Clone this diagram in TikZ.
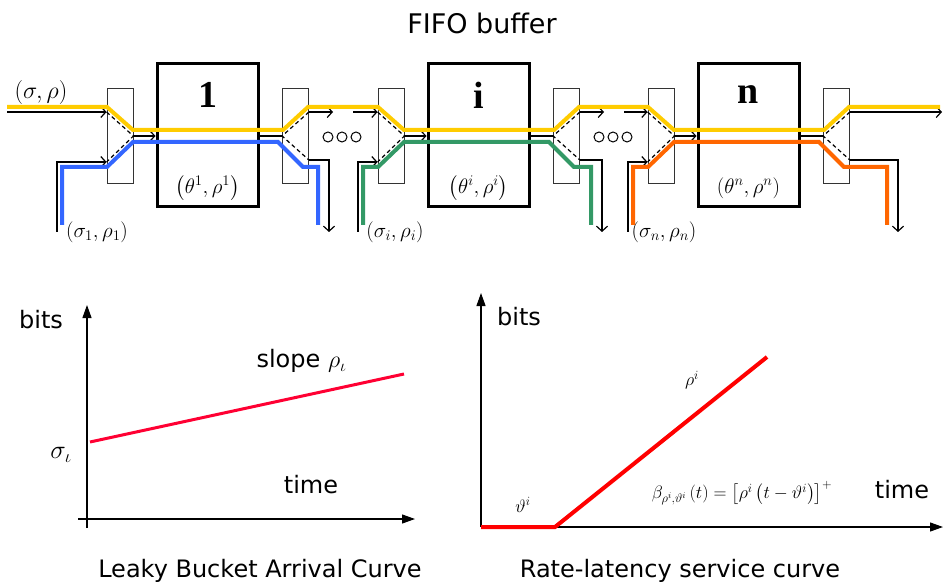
\documentclass[tikz,border=0pt]{standalone}
\usepackage{fix-cm}
\usepackage{amsmath}
\usepackage{fontspec}
\setsansfont{DejaVu Sans}
\newfontfamily\tnr{Liberation Serif}
\usetikzlibrary{positioning,arrows.meta}

\definecolor{giallo}{RGB}{255,204,0}
\definecolor{azzurro}{RGB}{51,102,255}
\definecolor{verde}{RGB}{51,153,102}
\definecolor{arancio}{RGB}{255,102,0}
\definecolor{rossoA}{RGB}{255,0,51}
\definecolor{rossoB}{RGB}{255,0,0}

\begin{document}
\begin{tikzpicture}[x=1pt,y=-1pt,
  gate/.style={draw=black!80,line width=0.8pt,minimum width=26pt,minimum height=95pt,inner sep=0pt},
  bigbox/.style={draw,line width=3pt,minimum width=101pt,minimum height=143pt,inner sep=0pt},
  flow/.style={line width=4pt},
  sig/.style={line width=1.2pt,-{Straight Barb[length=5pt,width=11pt]}},
  link/.style={line width=1.2pt,dash pattern=on 4pt off 3pt},
  axis/.style={line width=1.2pt,-{Triangle[length=13pt,width=9pt]}},
  lbl/.style={font=\sffamily\fontsize{24}{28}\selectfont},
  mlbl/.style={font=\fontsize{21}{25}\selectfont}]
  \useasboundingbox (0,0) rectangle (944,585);

  % titolo
  \node[font=\sffamily\fontsize{27}{32}\selectfont] (titolo) at (482,23) {FIFO buffer};
  \node[font=\fontsize{24}{28}\selectfont] (ingresso) at (41,93) {$(\sigma,\rho)$};

  % stadi
  \foreach \xs/\col/\nm/\inx/\outx/\lx in {107/azzurro/1/45/211/-10,378/verde/i/15/213/17,648/arancio/n/15/239/16}{
    \node[gate] (in\nm) at (\xs+13,135.5) {};
    \node[gate] (out\nm) at (\xs+188.5,135.5) {};
    \node[bigbox] (box\nm) at (\xs+100.5,135.5) {};
    \node[font=\tnr\bfseries\fontsize{38}{40}\selectfont] (nome\nm) at (box\nm.center |- 0,95) {\nm};
    \node[mlbl] (par\nm) at (box\nm.center |- 0,188) {$\left(\theta^{\nm},\rho^{\nm}\right)$};
    \node[mlbl] (src\nm) at (\xs+\lx,232) {$\left(\sigma_{\nm},\rho_{\nm}\right)$};
    % segnali neri
    \coordinate (ja\nm) at (in\nm.east |- 0,136);
    \coordinate (jb\nm) at (out\nm.west |- 0,136);
    \draw[sig] (ja\nm) -- (box\nm.west |- ja\nm);
    \draw[line width=1.2pt] (box\nm.east |- jb\nm) -- (jb\nm);
    \draw[link] (in\nm.west |- 0,112) -- (ja\nm) -- (in\nm.west |- 0,162);
    \draw[link] (out\nm.east |- 0,112) -- (jb\nm) -- (out\nm.east |- 0,160);
    \draw[sig] (\xs-\inx-5,232) |- (in\nm.west |- 0,162);
    \draw[sig] (out\nm.east |- 0,160) -| (\xs+\outx+11,232);
    % flusso locale
    \draw[flow,\col] (\xs-\inx,225) |- (\xs,167) -- (\xs+26,142) -- (\xs+171,142) -- (\xs+196,167) -| (\xs+\outx,225);
  }

  % collegamenti tra gli stadi
  \draw[sig] (7,112) -- (in1.west |- 0,112);
  \foreach \xs/\a/\b in {107/1/i,378/i/n}{
    \draw[sig] (out\a.east |- 0,112) -- (\xs+226,112);
    \draw[sig] (\xs+246,112) -- (in\b.west |- 0,112);
    \foreach \k in {0,1,2}
      \draw[line width=1pt] (\xs+221+14*\k,137) circle[radius=5pt];
  }
  \draw[sig] (outn.east |- 0,112) -- (942,112);

  % flusso principale
  \draw[flow,giallo] (7,107) \foreach \xs in {107,378,648}{ -- (\xs,107) -- (\xs+26,130) -- (\xs+176,130) -- (\xs+201,107) } -- (940,107);

  % curva di arrivo
  \draw[axis] (87,528) -- (87,305);
  \draw[axis] (78,519) -- (415,519);
  \draw[rossoA,line width=3pt] (90,442) -- (404,374);
  \node[lbl] (bitsA) at (41,320) {bits};
  \node[lbl,anchor=west] (slope) at (253,361) {slope $\rho_\iota$};
  \node[font=\fontsize{26}{30}\selectfont] (sigmaA) at (61,455) {$\sigma_\iota$};
  \node[lbl] (timeA) at (311,485) {time};
  \node[lbl,anchor=base] (capA) at (260,577) {Leaky Bucket Arrival Curve};

  % curva di servizio
  \draw[axis] (481,527) -- (481,293);
  \draw[axis] (481,527) -- (943,527);
  \draw[rossoB,line width=4pt] (481,527) -- (555,527) -- (767,357);
  \node[lbl] (bitsB) at (519,317) {bits};
  \node[font=\fontsize{18}{21}\selectfont] (rhoB) at (692,380) {$\rho^i$};
  \node[font=\fontsize{18}{21}\selectfont] (lat) at (523,505) {$\vartheta^i$};
  \node[font=\fontsize{18}{21}\selectfont] (betaB) at (742,493) {$\beta_{\rho^i,\vartheta^i}\left(t\right)=\left[\rho^i\left(t-\vartheta^i\right)\right]^+$};
  \node[lbl] (timeB) at (902,490) {time};
  \node[lbl,anchor=base] (capB) at (680,577) {Rate-latency service curve};
\end{tikzpicture}
\end{document}
